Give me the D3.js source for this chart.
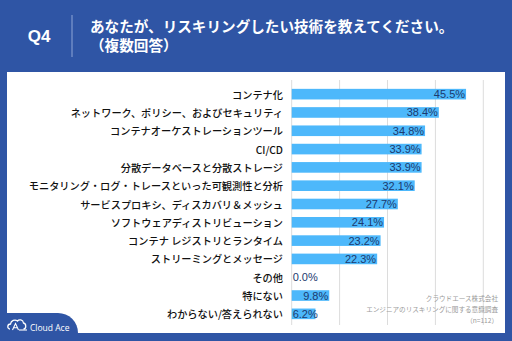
<!DOCTYPE html>
<html>
<head>
<meta charset="utf-8">
<script src="https://cdn.jsdelivr.net/npm/d3@7"></script>
<style>
  body { margin: 0; background: #2f55a5; }
  svg { display: block; }
</style>
</head>
<body>
<svg id="chart"></svg>
<script>
const categories = [
    "コンテナ化",
    "ネットワーク、ポリシー、およびセキュリティ",
    "コンテナオーケストレーションツール",
    "CI/CD",
    "分散データベースと分散ストレージ",
    "モニタリング・ログ・トレースといった可観測性と分析",
    "サービスプロキシ、ディスカバリ＆メッシュ",
    "ソフトウェアディストリビューション",
    "コンテナ レジストリとランタイム",
    "ストリーミングとメッセージ",
    "その他",
    "特にない",
    "わからない/答えられない"
];
const values = [45.5, 38.4, 34.8, 33.9, 33.9, 32.1, 27.7, 24.1, 23.2, 22.3, 0.0, 9.8, 6.2];
const gridTicks = [0, 12.5, 25, 37.5, 50];
const footnotes = ["クラウドエース株式会社", "エンジニアのリスキリングに関する意識調査", "（n=112）"];

const W = 512, H = 341;
const blue = "#2f55a5";
const jp = "'Noto Sans CJK JP', 'Noto Sans', sans-serif";
const latin = "'Liberation Sans', Arial, sans-serif";

const svg = d3.select("#chart").attr("width", W).attr("height", H);

svg.append("rect").attr("width", W).attr("height", H).attr("fill", blue);

// white panel
svg.append("rect")
    .attr("x", 7).attr("y", 72)
    .attr("width", 498).attr("height", 261)
    .attr("fill", "#fff");

// header
svg.append("text")
    .attr("x", 39).attr("y", 36)
    .attr("text-anchor", "middle").attr("dominant-baseline", "central")
    .attr("fill", "#fff").attr("font-family", latin)
    .attr("font-size", 17).attr("font-weight", "bold")
    .text("Q4");

svg.append("line")
    .attr("x1", 72).attr("x2", 72).attr("y1", 15).attr("y2", 57)
    .attr("stroke", "#8fa6d6").attr("stroke-width", 1);

svg.append("text")
    .attr("x", 90).attr("y", 25)
    .attr("dominant-baseline", "central")
    .attr("fill", "#fff").attr("font-family", jp)
    .attr("font-size", 14.6).attr("font-weight", "bold")
    .text("あなたが、リスキリングしたい技術を教えてください。");

svg.append("text")
    .attr("x", 90).attr("y", 44)
    .attr("dominant-baseline", "central")
    .attr("fill", "#fff").attr("font-family", jp)
    .attr("font-size", 14.6).attr("font-weight", "bold")
    .text("（複数回答）");

// scales
const x = d3.scaleLinear().domain([0, 50]).range([291.7, 483.3]);
const y = d3.scaleBand().domain(categories).range([85, 323]).paddingInner(0.42).paddingOuter(0.21);

const chart = svg.append("g");

chart.append("g")
    .selectAll("line")
    .data(gridTicks)
    .join("line")
    .attr("x1", d => x(d)).attr("x2", d => x(d))
    .attr("y1", 80).attr("y2", 325)
    .attr("stroke", "#dcdcdc").attr("stroke-width", 1);

chart.append("g")
    .selectAll("rect")
    .data(values)
    .join("rect")
    .attr("x", x(0))
    .attr("y", (d, i) => y(categories[i]))
    .attr("width", d => x(d) - x(0))
    .attr("height", y.bandwidth())
    .attr("fill", "#4db8fb");

chart.append("g")
    .selectAll("text")
    .data(categories)
    .join("text")
    .attr("x", 283)
    .attr("y", d => y(d) + y.bandwidth() / 2)
    .attr("text-anchor", "end").attr("dominant-baseline", "central")
    .attr("font-family", jp).attr("font-size", 10.2).attr("font-weight", 500)
    .attr("fill", "#111")
    .text(d => d);

const valueLabels = chart.append("g")
    .selectAll("text")
    .data(values)
    .join("text")
    .attr("y", (d, i) => y(categories[i]) + y.bandwidth() / 2)
    .attr("dominant-baseline", "central")
    .attr("text-anchor", "end")
    .attr("font-family", latin).attr("font-size", 11)
    .attr("fill", "#1c3a6e")
    .text(d => d.toFixed(1) + "%");

valueLabels.each(function(d) {
    const w = this.getComputedTextLength();
    d3.select(this).attr("x", Math.max(x(d) - 1, x(0) + w + 1));
});

// footnote
svg.append("g")
    .selectAll("text")
    .data(footnotes)
    .join("text")
    .attr("x", 498)
    .attr("y", (d, i) => 298 + i * 11)
    .attr("text-anchor", "end").attr("dominant-baseline", "central")
    .attr("font-family", jp).attr("font-size", 6.6)
    .attr("fill", "#9a9a9a")
    .text(d => d);

// bottom-left logo tab
svg.append("path")
    .attr("d", "M0,313 L58,313 A20,20 0 0 1 78,333 L78,341 L0,341 Z")
    .attr("fill", blue);

const logo = svg.append("g").attr("transform", "translate(7,319)");
logo.append("path")
    .attr("d", "M3,10 C0,10 0,5 3.5,5 C4,1.5 8,0 10.5,2 C12,0 16,0.5 16.5,4 C19.5,4.5 19.5,10 16.5,10")
    .attr("fill", "none").attr("stroke", "#fff").attr("stroke-width", 1.3);
logo.append("path")
    .attr("d", "M5.5,11 L8.5,4.5 L11.5,11 M6.8,8.8 L10.2,8.8")
    .attr("fill", "none").attr("stroke", "#fff").attr("stroke-width", 1.1);
logo.append("line")
    .attr("x1", 12).attr("x2", 20).attr("y1", 11).attr("y2", 11)
    .attr("stroke", "#fff").attr("stroke-width", 1.1);
logo.append("text")
    .attr("x", 23).attr("y", 8)
    .attr("dominant-baseline", "central")
    .attr("font-family", "'Open Sans', sans-serif").attr("font-size", 8.5)
    .attr("fill", "#fff")
    .text("Cloud Ace");
</script>
</body>
</html>
